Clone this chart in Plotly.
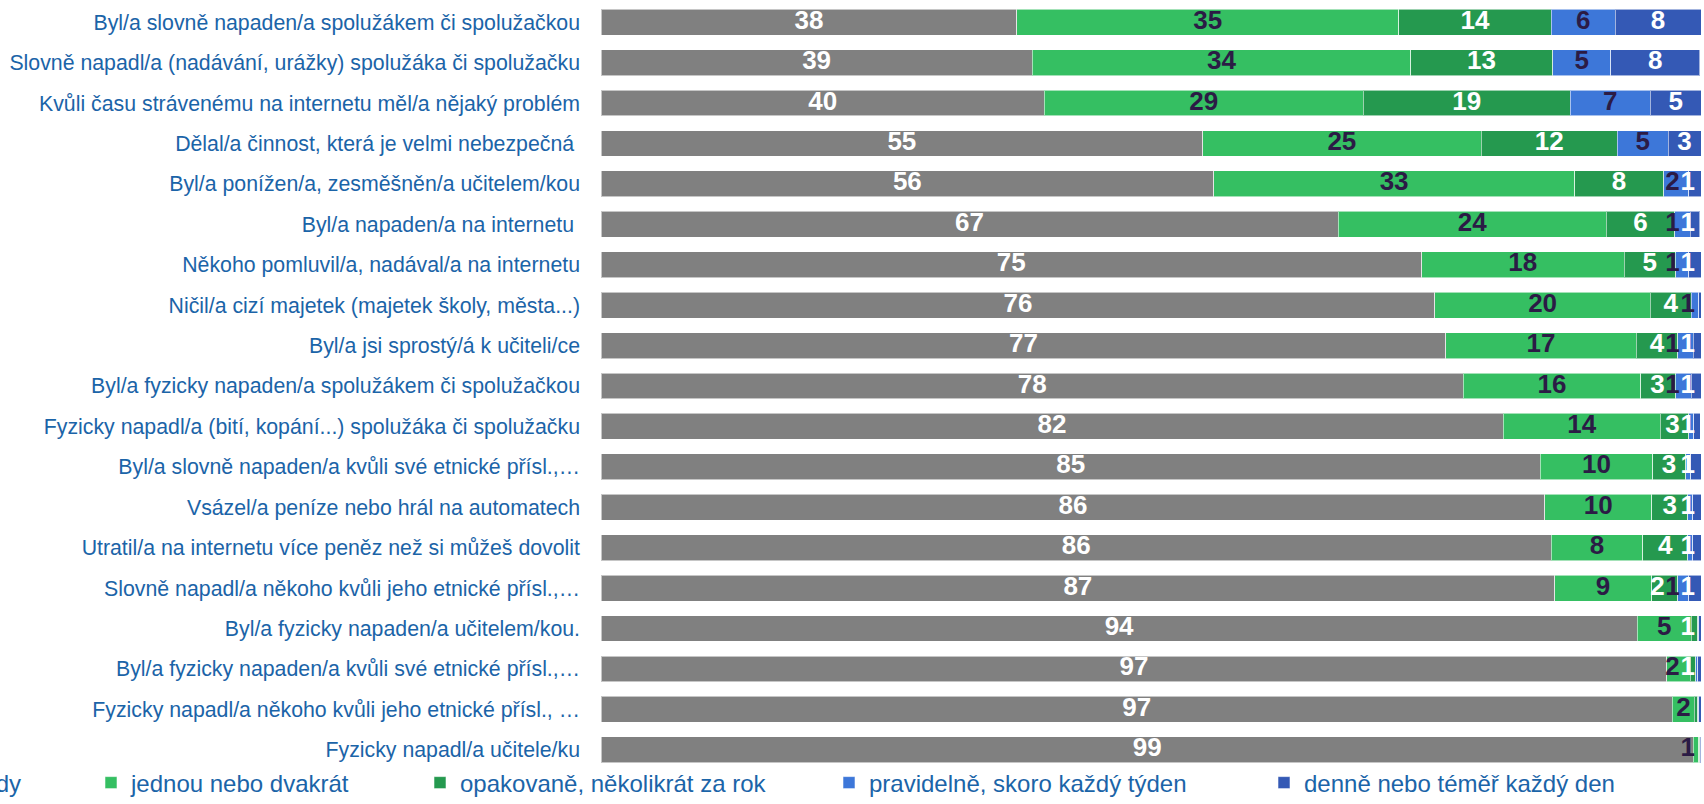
import plotly.graph_objects as go

categories = [
    "Byl/a slovně napaden/a spolužákem či spolužačkou",
    "Slovně napadl/a (nadávání, urážky) spolužáka či spolužačku",
    "Kvůli času strávenému na internetu měl/a nějaký problém",
    "Dělal/a činnost, která je velmi nebezpečná ",
    "Byl/a ponížen/a, zesměšněn/a učitelem/kou",
    "Byl/a napaden/a na internetu ",
    "Někoho pomluvil/a, nadával/a na internetu",
    "Ničil/a cizí majetek (majetek školy, města...)",
    "Byl/a jsi sprostý/á k učiteli/ce",
    "Byl/a fyzicky napaden/a spolužákem či spolužačkou",
    "Fyzicky napadl/a (bití, kopání...) spolužáka či spolužačku",
    "Byl/a slovně napaden/a kvůli své etnické přísl.,…",
    "Vsázel/a peníze nebo hrál na automatech",
    "Utratil/a na internetu více peněz než si můžeš dovolit",
    "Slovně napadl/a někoho kvůli jeho etnické přísl.,…",
    "Byl/a fyzicky napaden/a učitelem/kou.",
    "Byl/a fyzicky napaden/a kvůli své etnické přísl.,…",
    "Fyzicky napadl/a někoho kvůli jeho etnické přísl., …",
    "Fyzicky napadl/a učitele/ku",
]

series_names = [
    "nikdy",
    "jednou nebo dvakrát",
    "opakovaně, několikrát za rok",
    "pravidelně, skoro každý týden",
    "denně nebo téměř každý den",
]

nikdy = [37.8, 39.2, 40.3, 54.7, 55.7, 67.0, 74.6, 75.8, 76.8, 78.4,
         82.0, 85.4, 85.8, 86.4, 86.7, 94.2, 96.9, 97.4, 99.3]
jednou = [34.7, 34.4, 29.0, 25.3, 32.8, 24.4, 18.4, 19.6, 17.3, 16.1,
          14.3, 10.2, 9.7, 8.3, 8.8, 4.9, 2.1, 2.0, 0.5]
opakovane = [13.9, 12.9, 18.8, 12.4, 8.1, 6.2, 4.7, 3.7, 3.8, 3.2,
             2.6, 3.0, 3.3, 4.1, 2.4, 0.6, 0.5, 0.3, 0.1]
tydne = [5.8, 5.3, 7.3, 4.6, 2.3, 1.4, 1.2, 0.7, 1.4, 1.4,
         0.45, 0.45, 0.45, 0.45, 1.0, 0.1, 0.2, 0.1, 0.05]
denne = [7.8, 8.1, 4.6, 3.0, 1.1, 0.9, 1.1, 0.3, 0.7, 0.9,
         0.6, 0.95, 0.75, 0.75, 1.1, 0.2, 0.3, 0.2, 0.05]

all_series = [nikdy, jednou, opakovane, tydne, denne]

colors = ["#808080", "#35bf62", "#25994f", "#3d77d9", "#3459b5"]
label_colors = ["#ffffff", "#2b1b45", "#ffffff", "#2b1b45", "#ffffff"]
legend_ids = [None, "legend", "legend2", "legend3", "legend4"]
legend_left_px = [None, 91, 420, 829, 1264]  # legend box left (px)

W, H = 1704, 804
PLOT_L, PLOT_R, PLOT_T, PLOT_B = 601, 3, 2, 34
LEGEND_Y_PX = 783
BLUE = "#1b64a8"
FONT = "Liberation Sans, Arial, sans-serif"
LABEL_SIZE = 26
X_MAX = 100.0
UNIT_PX = (W - PLOT_L - PLOT_R) / X_MAX
DIGIT_UNITS = 0.556 * LABEL_SIZE / UNIT_PX


def label(v):
    return str(int(v + 0.5)) if v >= 0.5 else ""


# ---- label placement (centred on segment, kept inside the plot, no overlap) ----
n_rows = len(categories)
label_x = [[None] * n_rows for _ in all_series]
for r in range(n_rows):
    cum = 0.0
    items = []
    for s, vals in enumerate(all_series):
        v = vals[r]
        t = label(v)
        if t:
            items.append([s, cum + v / 2.0, len(t) * DIGIT_UNITS])
        cum += v
    nxt = None
    for it in reversed(items):
        s, c, w = it
        x = min(c, X_MAX - w / 2 - 0.55)
        if nxt is not None:
            x = min(x, nxt[0] - (w + nxt[1]) / 2 * 1.05)
        label_x[s][r] = x
        nxt = (x, w)

fig = go.Figure()
for name, vals, col, lid in zip(series_names, all_series, colors, legend_ids):
    fig.add_trace(go.Bar(
        y=categories,
        x=vals,
        name=name,
        orientation="h",
        marker=dict(color=col, line=dict(color="rgba(255,255,255,0.55)", width=1)),
        hoverinfo="x+y+name",
        legend=lid if lid else "legend",
        showlegend=lid is not None,
    ))

for s, (vals, lcol) in enumerate(zip(all_series, label_colors)):
    xs, ys, ts = [], [], []
    for r, v in enumerate(vals):
        if label_x[s][r] is not None:
            xs.append(label_x[s][r])
            ys.append(categories[r])
            ts.append(label(v))
    fig.add_trace(go.Scatter(
        x=xs, y=ys, text=ts, mode="text",
        textposition="middle center",
        textfont=dict(family=FONT, size=LABEL_SIZE, color=lcol, weight="bold"),
        showlegend=False, hoverinfo="skip", cliponaxis=False,
    ))

layout_legends = {}
for lid, px in zip(legend_ids, legend_left_px):
    if lid is None:
        continue
    layout_legends[lid] = dict(
        xref="container", yref="container",
        x=px / W, y=1 - LEGEND_Y_PX / H,
        xanchor="left", yanchor="middle",
        orientation="h",
        font=dict(family=FONT, size=24, color=BLUE),
        bgcolor="rgba(0,0,0,0)",
        borderwidth=0,
    )

plot_w = W - PLOT_L - PLOT_R
plot_h = H - PLOT_T - PLOT_B

# first legend entry ("nikdy") is cut off by the left edge in the original
fig.add_annotation(
    text=series_names[0],
    xref="paper", yref="paper",
    x=(23 - PLOT_L) / plot_w,
    y=(H - PLOT_B - LEGEND_Y_PX) / plot_h,
    xanchor="right", yanchor="middle",
    showarrow=False,
    font=dict(family=FONT, size=24, color=BLUE),
)

fig.update_layout(
    width=W, height=H,
    barmode="stack",
    bargap=0.36,
    plot_bgcolor="white",
    paper_bgcolor="white",
    margin=dict(l=PLOT_L, r=PLOT_R, t=PLOT_T, b=PLOT_B, autoexpand=False),
    xaxis=dict(range=[0, X_MAX], visible=False, showgrid=False, zeroline=False, fixedrange=True),
    yaxis=dict(
        range=[n_rows - 0.5, -0.5], autorange=False,
        showgrid=False, zeroline=False, showline=False,
        ticks="", ticklabelstandoff=20,
        tickfont=dict(family=FONT, size=21.3, color=BLUE),
    ),
    showlegend=True,
    **layout_legends,
)

fig.write_html("out.html", config={"displayModeBar": False},
               post_script="document.body.style.margin='0px';")
